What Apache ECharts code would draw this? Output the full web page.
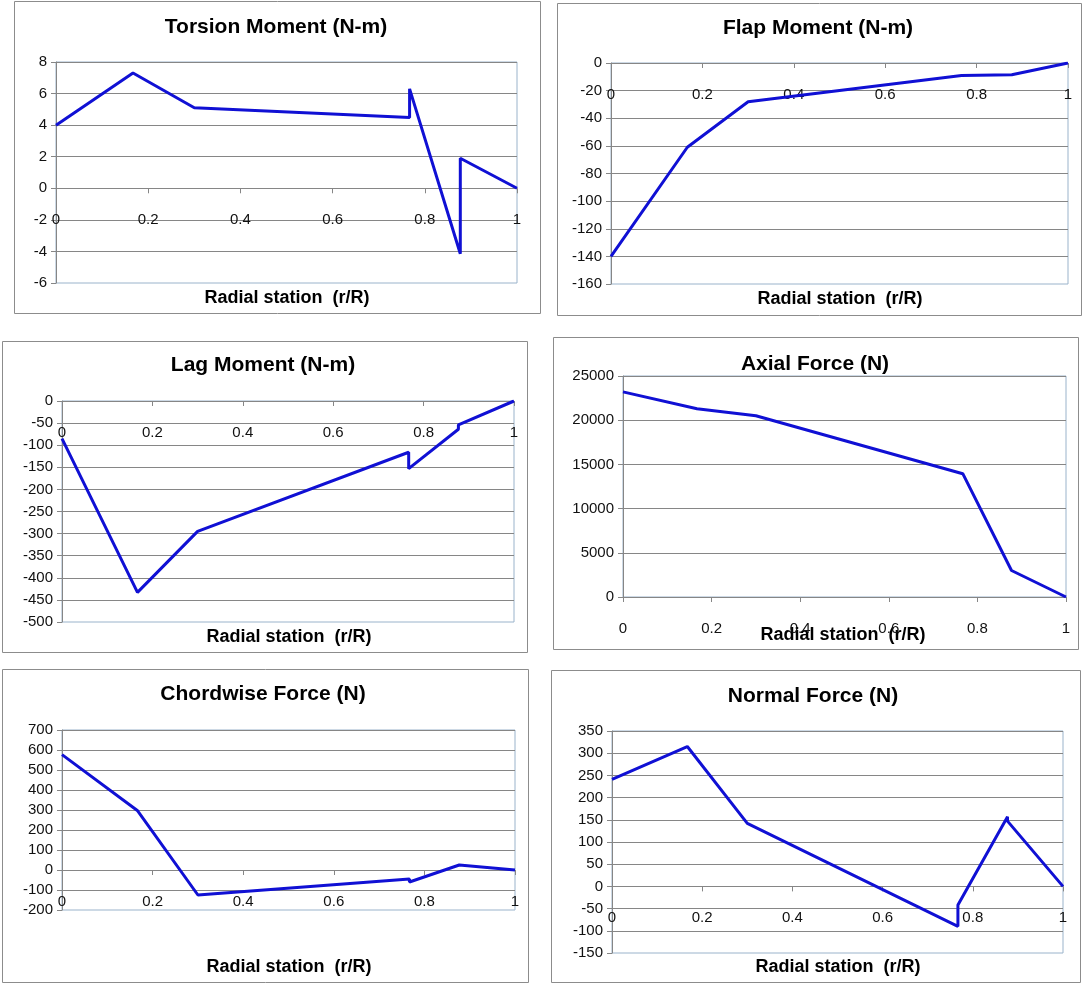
<!DOCTYPE html>
<html>
<head>
<meta charset="utf-8">
<script src="https://cdn.jsdelivr.net/npm/echarts@6/dist/echarts.min.js"></script>
<style>
html,body{margin:0;padding:0;background:#fff;}
#c{width:1083px;height:984px;}
</style>
</head>
<body>
<div id="c"></div>
<script>
// ---- Data ----
const chartTitles = ['Torsion Moment (N-m)', 'Flap Moment (N-m)', 'Lag Moment (N-m)', 'Axial Force (N)', 'Chordwise Force (N)', 'Normal Force (N)'];
const xAxisTitle = 'Radial station  (r/R)';

const torsionX = [0, 0.167, 0.3, 0.767, 0.767, 0.877, 0.877, 1];
const torsionY = [4.0, 7.3, 5.1, 4.48, 6.3, -4.15, 1.9, 0];

const flapX = [0, 0.167, 0.3, 0.767, 0.877, 1];
const flapY = [-140, -61, -28, -9, -8.5, 0];

const lagX = [0, 0.167, 0.3, 0.767, 0.767, 0.877, 0.877, 1];
const lagY = [-85, -433, -295, -116, -153, -64, -54, 0];

const axialX = [0, 0.167, 0.3, 0.767, 0.877, 1];
const axialY = [23200, 21300, 20500, 13950, 3000, 0];

const chordX = [0, 0.167, 0.3, 0.767, 0.767, 0.877, 1];
const chordY = [577, 296, -125, -45, -60, 25, 0];

const normalX = [0, 0.167, 0.3, 0.767, 0.767, 0.877, 0.877, 1];
const normalY = [241, 315, 142, -90, -42, 157, 147, 0];

// y-axis ranges [min, max, interval]
const yRanges = [[-6, 8, 2], [-160, 0, 20], [-500, 0, 50], [0, 25000, 5000], [-200, 700, 100], [-150, 350, 50]];

// ---- Layout ----
const grids = [
  {left: 56, top: 62, width: 461, height: 221},
  {left: 611, top: 63, width: 457, height: 221},
  {left: 62, top: 401, width: 452, height: 221},
  {left: 623, top: 376, width: 443, height: 221},
  {left: 62, top: 730, width: 453, height: 180},
  {left: 612, top: 731, width: 451, height: 222}
];
const frames = [
  [14, 1, 526, 312], [557, 3, 524, 312], [2, 341, 525, 311],
  [553, 337, 525, 312], [2, 669, 526, 313], [551, 670, 529, 312]
];
const titlePos = [[276, 27], [818, 28], [263, 365], [815, 364], [263, 694], [813, 696]];
const namePos = [[287, 298], [840, 299], [289, 637], [843, 635], [289, 967], [838, 967]];

const seriesX = [torsionX, flapX, lagX, axialX, chordX, normalX];
const seriesY = [torsionY, flapY, lagY, axialY, chordY, normalY];

const FONT = "'Liberation Sans', Arial, sans-serif";
const GRAY = '#868686';

const graphic = [];
frames.forEach(f => {
  graphic.push({type: 'rect', shape: {x: f[0] + 0.5, y: f[1] + 0.5, width: f[2], height: f[3]},
    style: {fill: 'none', stroke: '#8c8c8c', lineWidth: 1}, z: -1});
});
titlePos.forEach((p, i) => {
  graphic.push({type: 'text', x: p[0], y: p[1],
    style: {text: chartTitles[i], fill: '#000', font: "bold 21px " + FONT, textAlign: 'center', textVerticalAlign: 'middle'}});
});
namePos.forEach((p, i) => {
  graphic.push({type: 'text', x: p[0], y: p[1],
    style: {text: xAxisTitle, fill: '#000', font: "bold 18px " + FONT, textAlign: 'center', textVerticalAlign: 'middle'}});
});

// x axis sits on the y = 0 line: shift it up from the grid bottom by the zero position
function zeroOffset(i) {
  const r = yRanges[i];
  return -grids[i].height * (0 - r[0]) / (r[1] - r[0]);
}

const option = {
  animation: false,
  backgroundColor: '#fff',
  graphic: graphic,
  grid: grids.map(g => Object.assign({show: true, borderColor: '#9ab3cb', borderWidth: 1, backgroundColor: 'transparent', containLabel: false}, g)),
  xAxis: grids.map((g, i) => ({
    type: 'value', gridIndex: i, min: 0, max: 1, interval: 0.2,
    position: 'bottom', offset: zeroOffset(i),
    axisLine: {show: true, onZero: false, lineStyle: {color: GRAY, width: 1}},
    axisTick: {show: true, inside: false, length: 5, lineStyle: {color: GRAY}},
    axisLabel: {color: '#111', fontSize: 15, fontFamily: FONT, margin: 24, showMinLabel: true, showMaxLabel: true,
      formatter: v => String(v)},
    splitLine: {show: false}
  })),
  yAxis: grids.map((g, i) => ({
    type: 'value', gridIndex: i, min: yRanges[i][0], max: yRanges[i][1], interval: yRanges[i][2],
    axisLine: {show: true, onZero: false, lineStyle: {color: GRAY, width: 1}},
    axisTick: {show: true, inside: false, length: 5, lineStyle: {color: GRAY}},
    axisLabel: {color: '#111', fontSize: 15, fontFamily: FONT, margin: 9, formatter: v => String(v)},
    splitLine: {show: true, showMinLine: false, lineStyle: {color: GRAY, width: 1}}
  })),
  series: seriesX.map((xs, i) => ({
    type: 'line', xAxisIndex: i, yAxisIndex: i,
    data: xs.map((x, j) => [x, seriesY[i][j]]),
    showSymbol: false, symbol: 'none',
    lineStyle: {color: '#1010d4', width: 3},
    itemStyle: {color: '#1010d4'}
  }))
};

const chart = echarts.init(document.getElementById('c'), null, {renderer: 'canvas', width: 1083, height: 984});
chart.setOption(option);
</script>
</body>
</html>
